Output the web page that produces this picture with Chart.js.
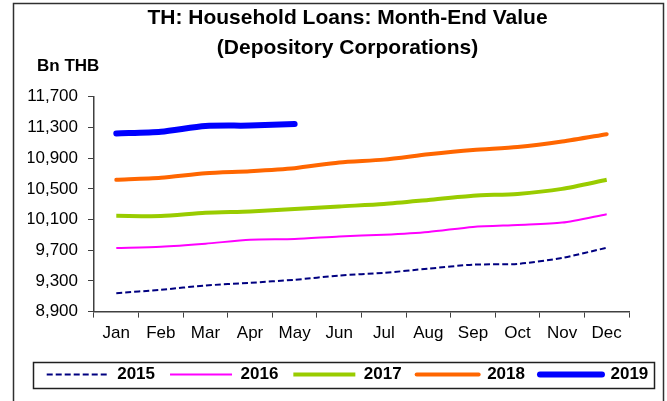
<!DOCTYPE html>
<html>
<head>
<meta charset="utf-8">
<title>TH: Household Loans</title>
<script src="https://cdn.jsdelivr.net/npm/chart.js@4.4.1/dist/chart.umd.min.js"></script>
<style>
  html, body { margin: 0; padding: 0; background: #fff; }
  #wrap { position: relative; width: 667px; height: 401px; }
</style>
</head>
<body>
<div id="wrap"><canvas id="loansChart" width="667" height="401"></canvas></div>
<script>
// Months on the x axis
const months = ["Jan", "Feb", "Mar", "Apr", "May", "Jun", "Jul", "Aug", "Sep", "Oct", "Nov", "Dec"];

// Month-end values, Bn THB
const loans2015 = [9140, 9185, 9240, 9275, 9315, 9370, 9405, 9460, 9512, 9522, 9600, 9732];
const loans2016 = [9730, 9745, 9785, 9837, 9846, 9880, 9902, 9938, 10004, 10030, 10060, 10170];
const loans2017 = [10148, 10145, 10188, 10205, 10236, 10271, 10302, 10355, 10411, 10434, 10500, 10618];
const loans2018 = [10618, 10644, 10705, 10731, 10770, 10845, 10881, 10950, 11007, 11046, 11117, 11213];
const loans2019 = [11222, 11244, 11319, 11325, 11345];

// y axis range
const yMin = 8900;
const yMax = 11700;
const yStep = 400;

const FONT = "'Liberation Sans', Arial, Helvetica, sans-serif";
const AXIS_COLOR = "#404040";

// frame, unit label and legend box
const decorations = {
  id: "decorations",
  afterDraw(chart) {
    const ctx = chart.ctx;
    ctx.save();
    // outer frame
    ctx.strokeStyle = "#303030";
    ctx.lineWidth = 1.5;
    ctx.strokeRect(13.5, 3.5, 650, 500);

    // unit label
    ctx.fillStyle = "#000";
    ctx.font = "bold 17px " + FONT;
    ctx.textBaseline = "middle";
    ctx.textAlign = "left";
    ctx.fillText("Bn THB", 37, 66);

    // box round the legend
    const boxes = chart.legend.legendHitBoxes;
    if (boxes && boxes.length) {
      const first = boxes[0];
      const last = boxes[boxes.length - 1];
      const left = first.left - 14;
      const right = last.left + last.width + 5;
      const mid = first.top + first.height / 2;
      ctx.strokeStyle = "#202020";
      ctx.lineWidth = 1.5;
      ctx.strokeRect(Math.round(left) + 0.5, Math.round(mid - 13) + 0.5, Math.round(right - left), 26);
    }
    ctx.restore();
  }
};

const ctx = document.getElementById("loansChart").getContext("2d");
const loansChart = new Chart(ctx, {
  type: "line",
  data: {
    labels: months,
    datasets: [
      {
        label: "2015",
        data: loans2015,
        borderColor: "#000080",
        borderWidth: 2,
        borderDash: [6, 3],
      },
      {
        label: "2016",
        data: loans2016,
        borderColor: "#ff00ff",
        borderWidth: 2,
      },
      {
        label: "2017",
        data: loans2017,
        borderColor: "#99cc00",
        borderWidth: 4,
      },
      {
        label: "2018",
        data: loans2018,
        borderColor: "#ff6600",
        borderWidth: 4,
        borderCapStyle: "round",
      },
      {
        label: "2019",
        data: loans2019,
        borderColor: "#0000ff",
        borderWidth: 6,
        borderCapStyle: "round",
      },
    ],
  },
  options: {
    responsive: false,
    animation: false,
    devicePixelRatio: 1,
    elements: {
      point: { radius: 0, hoverRadius: 0 },
      line: { tension: 0.25, fill: false, borderJoinStyle: "round" },
    },
    layout: {
      padding: { left: 28, right: 0, top: 0, bottom: 8 },
    },
    plugins: {
      title: {
        display: true,
        text: ["TH: Household Loans: Month-End Value", "(Depository Corporations)"],
        color: "#000",
        font: { family: FONT, size: 21, weight: "bold", lineHeight: 1.4 },
        padding: { top: 4, bottom: 34 },
      },
      legend: {
        position: "bottom",
        labels: {
          usePointStyle: true,
          pointStyle: "line",
          pointStyleWidth: 62,
          boxHeight: 10,
          padding: 15,
          color: "#000",
          font: { family: FONT, size: 17, weight: "bold" },
          // take the dash, width and colour from the line itself
          generateLabels(chart) {
            const items = Chart.defaults.plugins.legend.labels.generateLabels(chart);
            items.forEach((item) => {
              const ds = chart.data.datasets[item.datasetIndex];
              item.lineDash = ds.borderDash || [];
              item.lineWidth = ds.borderWidth;
              item.strokeStyle = ds.borderColor;
              item.lineCap = ds.borderCapStyle || "butt";
            });
            return items;
          },
        },
      },
      tooltip: { enabled: false },
    },
    scales: {
      x: {
        offset: true,
        afterFit(scale) {
          scale.height = scale.height + 1;
        },
        grid: {
          offset: true,
          drawOnChartArea: false,
          tickLength: 6,
          color: AXIS_COLOR,
        },
        border: { color: AXIS_COLOR, width: 1.5 },
        ticks: {
          color: "#000",
          padding: 6,
          maxRotation: 0,
          font: { family: FONT, size: 17 },
        },
      },
      y: {
        min: yMin,
        max: yMax,
        afterFit(scale) {
          scale.width = 66;
        },
        grid: {
          drawOnChartArea: false,
          tickLength: 6,
          color: AXIS_COLOR,
        },
        border: { color: AXIS_COLOR, width: 1.5 },
        ticks: {
          stepSize: yStep,
          color: "#000",
          padding: 10,
          font: { family: FONT, size: 17 },
          callback: (v) => v.toLocaleString("en-US"),
        },
      },
      // spacer on the right so the plot ends where the original does
      yRight: {
        type: "linear",
        position: "right",
        display: true,
        afterFit(scale) {
          scale.width = 38;
        },
        grid: { display: false },
        border: { display: false },
        ticks: { display: false },
      },
    },
  },
  plugins: [decorations],
});
</script>
</body>
</html>
